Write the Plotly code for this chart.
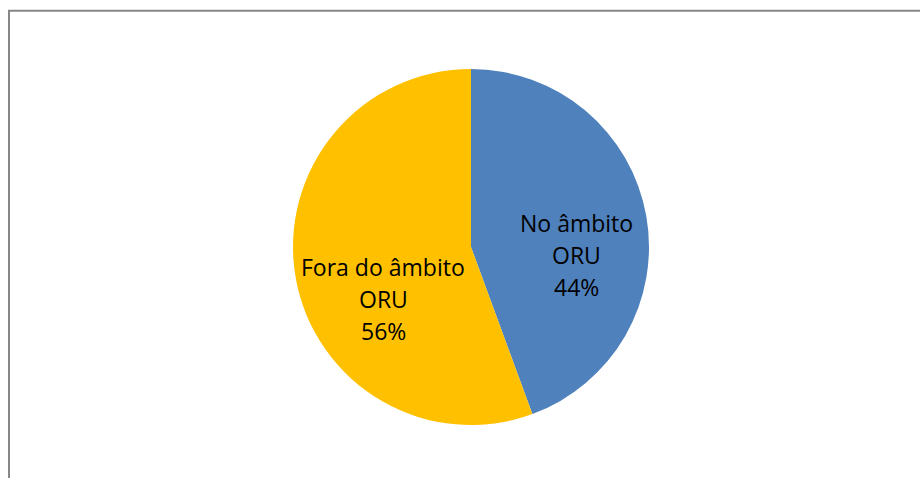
import plotly.graph_objects as go

categories = ["No âmbito ORU", "Fora do âmbito ORU"]
label_lines = [["No âmbito", "ORU"], ["Fora do âmbito", "ORU"]]
values = [44.4, 55.6]
colors = ["#4F81BD", "#FFC000"]

W, H = 920, 478
cx, cy, r = 471, 247, 178
# label block centre (px) and line spacing, as laid out in the reference
label_pos = [(576, 223), (383, 267)]
line_gap = 32

fig = go.Figure(go.Pie(
    labels=categories,
    values=values,
    marker=dict(colors=colors, line=dict(width=0)),
    sort=False,
    direction="clockwise",
    rotation=0,
    textinfo="none",
    hoverinfo="label+percent",
    showlegend=False,
    domain=dict(x=[(cx - r) / W, (cx + r) / W], y=[1 - (cy + r) / H, 1 - (cy - r) / H]),
))

total = sum(values)
annotations = []
for lines, v, (px, py) in zip(label_lines, values, label_pos):
    all_lines = lines + [f"{round(100 * v / total)}%"]
    for i, t in enumerate(all_lines):
        annotations.append(dict(
            text=t, xref="paper", yref="paper",
            x=px / W, y=1 - (py + i * line_gap) / H,
            xanchor="center", yanchor="middle", showarrow=False,
            font=dict(family="Open Sans, Liberation Sans, sans-serif", size=23, color="#000000"),
        ))

fig.update_layout(
    width=W, height=H,
    margin=dict(l=0, r=0, t=0, b=0),
    paper_bgcolor="white",
    plot_bgcolor="white",
    annotations=annotations,
    shapes=[dict(type="rect", xref="paper", yref="paper",
                 x0=9 / W, x1=1.05, y0=-0.05, y1=1 - 10.8 / H,
                 line=dict(color="#878787", width=2), fillcolor="rgba(0,0,0,0)")],
)

fig.write_html("out.html", config={"displayModeBar": False},
               post_script="document.body.style.margin='0';document.body.style.overflow='hidden';")
